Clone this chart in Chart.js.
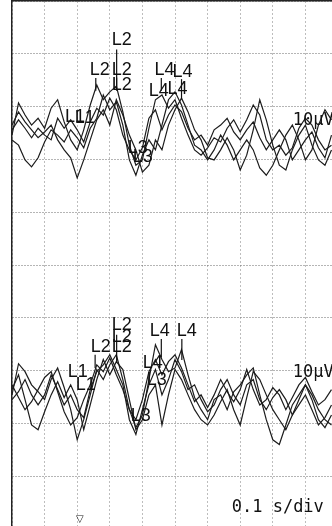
<!DOCTYPE html>
<html>
<head>
<meta charset="utf-8">
<script src="https://cdn.jsdelivr.net/npm/chart.js@4"></script>
<style>
html,body{margin:0;padding:0;background:#fff;overflow:hidden;width:332px;height:526px;}
canvas{display:block;}
</style>
</head>
<body>
<canvas id="c" width="340" height="530"></canvas>
<script>
// time axis (ms), sampled every 20 ms
const timesMs = Array.from({length: 50}, (_, i) => i * 20);

// channel baselines (µV on the display scale)
const upperBaseline = 25;
const lowerBaseline = -24;

// upper group traces (µV relative to baseline)
const upper1 = [-0.4,5.7,3.4,1.5,2.8,0.9,4.7,6.3,2.1,-1.3,-3.2,0.6,5.3,9.1,6.3,7.8,8.9,4.0,-2.3,-6.1,-5.1,0.9,6.3,7.2,4.7,6.3,2.8,-0.4,-3.2,-4.2,-2.8,-0.9,-1.7,0.9,2.5,0.2,2.5,5.3,3.4,-1.3,-3.2,-2.3,-4.2,-2.8,0.9,2.8,1.5,-1.3,-3.2,-2.3];
const upper2 = [1.5,4.0,2.1,0.6,-0.9,0.2,1.5,-1.3,-3.2,-4.7,-8.5,-5.1,-1.3,2.5,4.4,1.5,6.3,3.4,-0.4,-3.2,-7.4,-6.1,-1.3,-3.2,1.5,4.4,6.6,4.0,0.6,-1.3,-4.7,-5.1,-3.2,-0.9,-3.2,-7.0,-4.2,0.6,6.3,2.5,-2.3,-6.1,-7.0,-3.2,-0.4,1.5,-2.3,-5.1,-6.1,-3.2];
const upper3 = [-1.3,-2.3,-5.1,-6.4,-4.7,-1.7,0.6,-0.4,-1.7,0.6,-0.9,-2.8,0.9,2.8,7.2,4.4,5.9,1.5,-5.1,-8.0,-4.2,-1.3,-3.2,1.5,6.3,7.8,5.3,1.5,-2.3,-3.2,-5.1,-3.2,-0.4,-2.3,-5.1,-3.2,-1.3,-3.2,-6.6,-8.0,-6.1,-3.2,-0.4,1.5,-1.3,-5.1,-3.2,1.5,4.4,2.5];
const upper4 = [0.6,2.5,0.9,-0.9,0.9,-0.4,-1.3,2.8,0.9,2.5,0.6,-1.7,2.1,4.7,3.4,6.6,4.4,-0.4,-3.2,-5.1,-2.8,2.8,4.4,0.6,3.4,5.3,4.0,0.9,-1.3,-0.4,-2.3,0.6,1.5,2.8,0.2,-1.3,0.6,2.1,-0.9,-3.2,-1.3,0.6,-1.3,-5.1,-3.2,-1.3,0.2,-2.8,-4.7,-0.4];

// lower group traces (µV relative to baseline)
const lower1 = [-0.6,5.3,3.8,1.3,0,-1.5,2.3,4.5,0.8,-3.4,-9.1,-5.3,-0.6,4.2,2.3,5.1,7.0,2.3,-3.4,-6.8,-4.4,2.3,8.9,6.1,3.8,4.5,8.0,3.2,-1.1,-3.4,-5.3,-1.5,-0.6,-3.4,0,1.3,3.2,4.5,-0.6,-5.3,-9.1,-10.0,-6.3,-2.5,-0.6,1.3,-1.5,-5.3,-6.8,-4.4];
const lower2 = [0.4,3.2,-1.5,-6.3,-7.2,-3.8,-0.6,1.9,-1.1,1.3,-1.5,-7.2,-2.5,2.3,6.1,3.2,5.7,4.2,-1.5,-7.2,-5.3,-0.6,1.3,-6.3,-0.6,4.2,2.3,-0.6,-3.4,-5.3,-6.3,-4.4,-1.9,0.4,-3.4,-6.3,-1.1,3.8,2.3,-0.6,-3.4,-5.3,-7.2,-4.4,-1.5,1.3,-0.6,-3.4,-5.3,-6.3];
const lower3 = [-1.5,0,2.3,-0.6,-2.5,-0.6,3.2,0.4,-2.5,-0.6,-3.4,-4.9,0.4,3.8,5.1,7.0,4.2,1.3,-5.3,-8.1,-3.4,1.3,4.2,-0.6,2.3,6.1,3.8,0.4,1.3,-1.5,-3.8,-2.5,0.4,2.3,-0.6,-2.5,1.3,2.3,-1.5,-3.4,-1.1,0.4,-1.5,-4.4,-2.5,-0.6,-3.4,-6.3,-4.9,-2.5];
const lower4 = [1.3,-1.1,-3.4,-1.9,0.4,2.7,3.8,0,-3.8,-6.3,-4.9,-1.5,1.3,5.1,3.8,6.4,3.2,0.4,-3.4,-5.3,-1.5,3.8,6.1,3.2,5.7,7.0,4.5,1.3,-1.9,-0.6,-3.0,-0.6,2.3,0,-1.9,0.4,4.2,0.4,-2.5,-1.5,0.8,-0.6,-3.4,-1.1,1.3,2.7,0,-2.5,-1.5,0.4];

// annotations: text, time (ms), value (µV)
const markerTexts = ['L2','L2','L2','L2','L4','L4','L4','L4','L1','L1','L3','L3',
                     'L2','L2','L2','L2','L4','L4','L4','L3','L1','L1','L3'];
const markerTimes = [337,269,337,337,468,523,450,508,193,223,386,401,
                     337,337,272,337,453,536,432,444,202,226,395];
const markerValues = [42.6,36.9,36.9,34.1,36.9,36.6,33.0,33.3,28.0,27.8,22.2,20.5,
                      -11.4,-13.6,-15.5,-15.5,-12.5,-12.5,-18.6,-21.8,-20.3,-22.7,-28.6];
// small marker ticks: time (ms), from value, to value
const tickTimes = [321,257,321,458,520,321,255,458,521];
const tickFrom = [40.8,35.4,35.5,35.4,35.2,-13.2,-17.0,-14.0,-14.0];
const tickTo = [33.5,33.0,33.0,33.0,31.5,-18.5,-19.5,-17.5,-18.0];

const scaleTexts = ['10\u00b5V','10\u00b5V','0.1 s/div'];
const scaleTimes = [861,861,674];
const scaleValues = [27.4,-20.3,-46.0];

function build(arr, base){ return arr.map((v,i)=>({x: timesMs[i], y: base + v})); }

const traces = [
  [upper1, upperBaseline],[upper2, upperBaseline],[upper3, upperBaseline],[upper4, upperBaseline],
  [lower1, lowerBaseline],[lower2, lowerBaseline],[lower3, lowerBaseline],[lower4, lowerBaseline]
];

const annot = {
  id: 'annot',
  afterDatasetsDraw(chart){
    const ctx = chart.ctx, xs = chart.scales.x, ys = chart.scales.y;
    ctx.save();
    ctx.fillStyle = '#111';
    ctx.strokeStyle = '#111';
    ctx.lineWidth = 1.2;
    ctx.textAlign = 'center';
    ctx.textBaseline = 'middle';
    ctx.font = '18px "Liberation Sans", Arial, sans-serif';
    markerTexts.forEach((t,i)=>{
      ctx.fillText(t, xs.getPixelForValue(markerTimes[i]), ys.getPixelForValue(markerValues[i]));
    });
    tickTimes.forEach((t,i)=>{
      const px = xs.getPixelForValue(t);
      ctx.beginPath();
      ctx.moveTo(px, ys.getPixelForValue(tickFrom[i]));
      ctx.lineTo(px, ys.getPixelForValue(tickTo[i]));
      ctx.stroke();
    });
    ctx.textAlign = 'left';
    ctx.font = '17px "DejaVu Sans Mono", monospace';
    scaleTexts.forEach((t,i)=>{
      ctx.fillText(t, xs.getPixelForValue(scaleTimes[i]), ys.getPixelForValue(scaleValues[i]));
    });
    ctx.font = '10px "DejaVu Sans", sans-serif';
    ctx.textAlign = 'center';
    ctx.fillText('\u25bd', xs.getPixelForValue(208), ys.getPixelForValue(-48.2));
    ctx.restore();
  }
};

new Chart(document.getElementById('c'), {
  type: 'line',
  data: {
    datasets: traces.map(([arr, base]) => ({
      data: build(arr, base),
      borderColor: '#1c1c1c',
      borderWidth: 1.2,
      pointRadius: 0,
      tension: 0,
      fill: false
    }))
  },
  options: {
    responsive: false,
    animation: false,
    events: [],
    layout: { padding: { left: 12, top: 1, right: 2, bottom: 1 } },
    plugins: { legend: { display: false }, tooltip: { enabled: false } },
    scales: {
      x: {
        type: 'linear', position: 'top', min: 0, max: 1000,
        ticks: { display: false, stepSize: 100 },
        grid: { color: '#7a7a7a', lineWidth: 1, drawTicks: false, tickLength: 0 },
        border: { display: true, color: '#222', width: 1.5, dash: [1,3] }
      },
      y: {
        type: 'linear', position: 'left', min: -50, max: 50,
        ticks: { display: false, stepSize: 10 },
        grid: { color: '#6a6a6a', lineWidth: 1, drawTicks: false, tickLength: 0 },
        border: { display: true, color: '#222', width: 1.5, dash: [1,2] }
      }
    }
  },
  plugins: [annot]
});
</script>
</body>
</html>
